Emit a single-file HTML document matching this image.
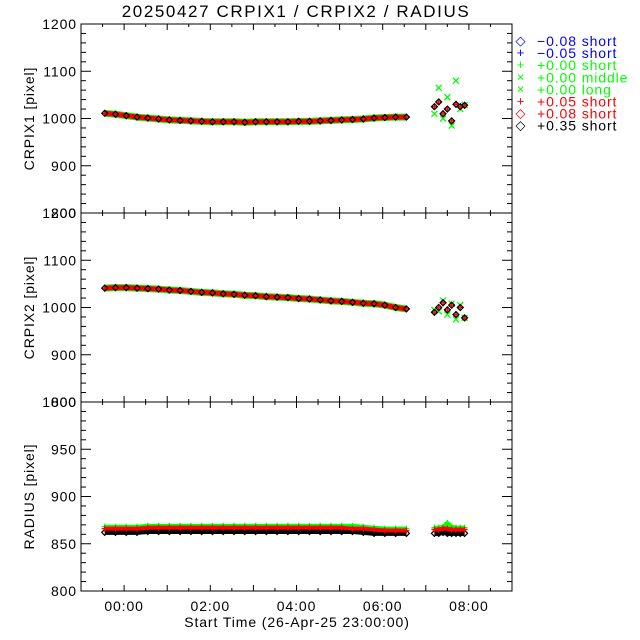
<!DOCTYPE html>
<html><head><meta charset="utf-8"><style>
body{margin:0;background:#fff}
svg{display:block;font-family:"Liberation Sans",sans-serif}
text{letter-spacing:0.9px}
</style></head><body>
<svg id="c" width="640" height="640" viewBox="0 0 640 640">
<rect width="640" height="640" fill="#fff"/>
<text x="296" y="17" font-size="17" text-anchor="middle" style="letter-spacing:1.6px">20250427 CRPIX1 / CRPIX2 / RADIUS</text>
<g id="legend"></g>
<g id="plots"></g>
</svg>
<script>
const xTickLabels = ["00:00","02:00","04:00","06:00","08:00"];
const xTickHours = [0,2,4,6,8];
const times = [-0.45,-0.2,0.05,0.3,0.55,0.8,1.05,1.3,1.55,1.8,2.05,2.3,2.55,2.8,3.05,3.3,3.55,3.8,4.05,4.3,4.55,4.8,5.05,5.3,5.55,5.8,6.05,6.3,6.55];
const lateTimes = [7.2,7.3,7.4,7.5,7.6,7.7,7.8,7.9];
const crpix1Main = [1011,1009,1006,1003,1001,999,997,996,995,994,993,993,993,992,993,993,993,993,994,994,995,996,997,998,999,1001,1002,1003,1003];
const crpix1LateRed = [1025,1035,1010,1020,995,1030,1025,1028];
const crpix1LateGreen = [1010,1065,1000,1045,985,1080,1020,1028];
const crpix2Main = [1041,1042,1042,1041,1040,1039,1037,1036,1034,1032,1031,1029,1028,1026,1025,1023,1022,1021,1019,1018,1016,1014,1013,1011,1009,1008,1005,1000,997];
const crpix2LateRed = [990,1000,1010,995,1005,985,1000,978];
const crpix2LateGreen = [995,992,1015,985,1008,975,1005,978];
const radiusGreen = [868,868,868,868,869,869,869,869,869,869,869,869,869,869,869,869,869,869,869,869,869,869,869,869,868,867,866,866,866];
const radiusRed = [866,866,866,866,867,867,867,867,867,867,867,867,867,867,867,867,867,867,867,867,867,867,867,866,866,865,864,864,864];
const radiusBlack = [862,862,862,862,863,863,863,863,863,863,863,863,863,863,863,863,863,863,863,863,863,863,863,863,862,861,861,861,861];
const radiusLateGreen = [867,867,868,872,868,867,867,867];
const radiusLateRed = [865,865,866,866,865,865,865,865];
const radiusLateBlack = [861,861,862,861,861,861,861,861];
const legendSymbols = ["◇","+","+","×","×","+","◇","◇"];
const legendLabels = ["−0.08 short","−0.05 short","+0.00 short","+0.00 middle","+0.00 long","+0.05 short","+0.08 short","+0.35 short"];
const legendColors = ["#0000ff","#0000ff","#00ff00","#00ff00","#00ff00","#ff0000","#ff0000","#000000"];

const NS="http://www.w3.org/2000/svg";
const X0=81,X1=512,XMIN=-1,XMAX=9;
const xs=h=>X0+(h-XMIN)/(XMAX-XMIN)*(X1-X0);
function mk(tag,attrs,parent){const e=document.createElementNS(NS,tag);for(const k in attrs)e.setAttribute(k,attrs[k]);parent.appendChild(e);return e;}
const plots=document.getElementById('plots');

const panels=[
 {top:24,bot:213,min:800,max:1200,step:100,minor:20,title:"CRPIX1 [pixel]",name:"crpix1"},
 {top:213,bot:402,min:800,max:1200,step:100,minor:20,title:"CRPIX2 [pixel]",name:"crpix2"},
 {top:402,bot:591,min:800,max:1000,step:50,minor:10,title:"RADIUS [pixel]",name:"radius"}
];
function marker(g,x,y,type,color){
  if(type==="+"){mk('path',{d:`M${x-3} ${y}h6M${x} ${y-3}v6`,stroke:color,'stroke-width':1.3,fill:'none'},g);}
  else if(type==="x"){mk('path',{d:`M${x-3} ${y-3}l6 6M${x-3} ${y+3}l6 -6`,stroke:color,'stroke-width':1.3,fill:'none'},g);}
  else {mk('path',{d:`M${x} ${y-3}l3 3l-3 3l-3 -3z`,stroke:color,'stroke-width':1.2,fill:'none'},g);}
}
function series(p,g,ts,vals,type,color,band,name){
  const ys=v=>p.bot-(v-p.min)/(p.max-p.min)*(p.bot-p.top);
  const s=mk('g',{},g);
  
  
  if(band){mk('polyline',{points:ts.map((t,i)=>xs(t)+','+ys(vals[i])).join(' '),stroke:color,'stroke-width':band,fill:'none','stroke-linejoin':'round'},s);}
  ts.forEach((t,i)=>marker(s,xs(t),ys(vals[i]),type,color));
}
panels.forEach((p,pi)=>{
  const g=mk('g',{},plots);
  
  
  const ys=v=>p.bot-(v-p.min)/(p.max-p.min)*(p.bot-p.top);
  for(let v=p.min;v<=p.max+0.01;v+=p.minor){
    const y=ys(v);const major=Math.abs((v-p.min)%p.step)<0.01;const L=major?10:5;
    mk('line',{x1:X0,x2:X0+L,y1:y,y2:y,stroke:'#000'},g);
    mk('line',{x1:X1,x2:X1-L,y1:y,y2:y,stroke:'#000'},g);
    if(major){const t=mk('text',{x:X0-4,y:y+5,'font-size':14,'text-anchor':'end'},g);t.textContent=v;
      
      }
  }
  for(let h=-0.5;h<=9;h+=0.5){
    const x=xs(h);const major=Number.isInteger(h);const L=major?6:3;
    mk('line',{x1:x,x2:x,y1:p.bot,y2:p.bot-L,stroke:'#000'},g);
    mk('line',{x1:x,x2:x,y1:p.top,y2:p.top+L,stroke:'#000'},g);
  }
  const yt=mk('text',{x:0,y:0,'font-size':14,'text-anchor':'middle',transform:`translate(34,${(p.top+p.bot)/2}) rotate(-90)`},g);
  yt.textContent=p.title;
  
  
  if(pi===0){
    series(p,g,times,crpix1Main,"+","#00ff00",7,'crpix1-green');
    series(p,g,times,crpix1Main,"+","#ff0000",5,'crpix1-red');
    series(p,g,times,crpix1Main,"d","#000000",0,'crpix1-black');
    series(p,g,lateTimes,crpix1LateGreen,"x","#00ff00",0,'crpix1-late-green');
    series(p,g,lateTimes,crpix1LateRed,"+","#ff0000",0,'crpix1-late-red');
    series(p,g,lateTimes,crpix1LateRed,"d","#000000",0,'crpix1-late-black');
  } else if(pi===1){
    series(p,g,times,crpix2Main,"+","#00ff00",7,'crpix2-green');
    series(p,g,times,crpix2Main,"+","#ff0000",5,'crpix2-red');
    series(p,g,times,crpix2Main,"d","#000000",0,'crpix2-black');
    series(p,g,lateTimes,crpix2LateGreen,"x","#00ff00",0,'crpix2-late-green');
    series(p,g,lateTimes,crpix2LateRed,"+","#ff0000",0,'crpix2-late-red');
    series(p,g,lateTimes,crpix2LateRed,"d","#000000",0,'crpix2-late-black');
  } else {
    series(p,g,times,radiusBlack,"d","#000000",5,'radius-black');
    series(p,g,times,radiusGreen,"+","#00ff00",4,'radius-green');
    series(p,g,times,radiusRed,"+","#ff0000",4,'radius-red');
    series(p,g,lateTimes,radiusLateBlack,"d","#000000",5,'radius-late-black');
    series(p,g,lateTimes,radiusLateGreen,"+","#00ff00",4,'radius-late-green');
    series(p,g,lateTimes,radiusLateRed,"+","#ff0000",4,'radius-late-red');
  }
  mk('rect',{x:X0,y:p.top,width:X1-X0,height:p.bot-p.top,fill:'none',stroke:'#000'},g);
  if(pi===2){
    xTickHours.forEach((h,i)=>{const t=mk('text',{x:xs(h),y:p.bot+20,'font-size':14,'text-anchor':'middle'},g);t.textContent=xTickLabels[i];
      
      });
    const xt=mk('text',{x:297,y:p.bot+36,'font-size':14,'text-anchor':'middle'},g);xt.textContent="Start Time (26-Apr-25 23:00:00)";
    
    
  }
});
const lg=document.getElementById('legend');
legendLabels.forEach((l,i)=>{
  const y=41+i*12.1;
  const e=mk('g',{},lg);
  
  
  const s=mk('text',{x:521,y:y+4,'font-size':13,'text-anchor':'middle',fill:legendColors[i]},e);s.textContent=legendSymbols[i];
  const t=mk('text',{x:537,y:y+5,'font-size':14,fill:legendColors[i]},e);t.textContent=l;
});
</script>
</body></html>
